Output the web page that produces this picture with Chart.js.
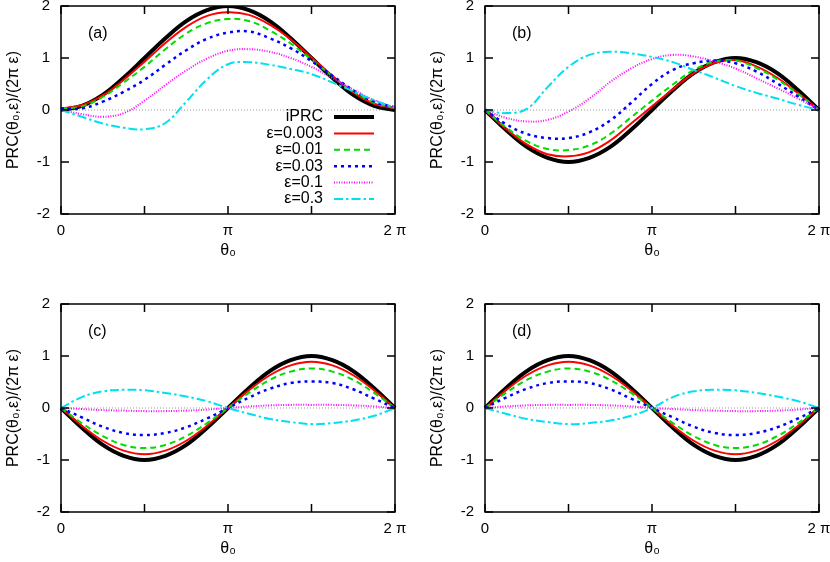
<!DOCTYPE html>
<html>
<head>
<meta charset="utf-8">
<script src="https://cdn.jsdelivr.net/npm/chart.js@4.4.0/dist/chart.umd.min.js"></script>
<style>
  body { margin: 0; background: #fff; }
  .panel { position: absolute; width: 406px; height: 264px; }
</style>
</head>
<body>
<div class="panel" style="left:0;top:0"><canvas id="chartA"></canvas></div>
<div class="panel" style="left:424px;top:0"><canvas id="chartB"></canvas></div>
<div class="panel" style="left:0;top:298px"><canvas id="chartC"></canvas></div>
<div class="panel" style="left:424px;top:298px"><canvas id="chartD"></canvas></div>
<script>
// theta_0 sampled every pi/8 from 0 to 2 pi
const thetaLabels = ["0", "π/8", "π/4", "3π/8", "π/2", "5π/8", "3π/4", "7π/8", "π",
  "9π/8", "5π/4", "11π/8", "3π/2", "13π/8", "7π/4", "15π/8", "2π"];
const xTickText = { 0: "0", 8: "π", 16: "2 π" };
const xTickMarks = [0, 4, 8, 12, 16];
const yTicks = [-2, -1, 0, 1, 2];

const seriesNames = ["iPRC", "ε=0.003", "ε=0.01", "ε=0.03", "ε=0.1", "ε=0.3"];

// panel (a)
const iprcA = [0, 0.08, 0.29, 0.62, 1.0, 1.38, 1.71, 1.92, 2.0, 1.92, 1.71, 1.38, 1.0, 0.62, 0.29, 0.08, 0];
const eps003A = [0.03, 0.09, 0.28, 0.58, 0.93, 1.29, 1.6, 1.81, 1.88, 1.83, 1.64, 1.36, 1.01, 0.66, 0.34, 0.12, 0.03];
const eps01A = [0.03, 0.07, 0.25, 0.53, 0.83, 1.17, 1.47, 1.67, 1.75, 1.71, 1.53, 1.28, 0.97, 0.65, 0.36, 0.14, 0.04];
const eps03A = [0.03, 0.03, 0.16, 0.35, 0.58, 0.87, 1.15, 1.37, 1.49, 1.51, 1.38, 1.19, 0.94, 0.66, 0.38, 0.16, 0.05];
const eps1A = [0, -0.08, -0.13, -0.06, 0.18, 0.48, 0.76, 0.99, 1.14, 1.17, 1.12, 1.0, 0.83, 0.61, 0.39, 0.19, 0.05];
const eps3A = [0, -0.13, -0.26, -0.34, -0.37, -0.25, 0.16, 0.59, 0.88, 0.92, 0.87, 0.79, 0.69, 0.53, 0.36, 0.19, 0.04];

// panel (b)
const iprcB = [0, -0.38, -0.71, -0.92, -1.0, -0.92, -0.71, -0.38, 0, 0.38, 0.71, 0.92, 1.0, 0.92, 0.71, 0.38, 0];
const eps003B = [0, -0.36, -0.66, -0.85, -0.89, -0.81, -0.59, -0.26, 0.07, 0.4, 0.71, 0.91, 0.96, 0.84, 0.62, 0.32, 0];
const eps01B = [0, -0.33, -0.6, -0.75, -0.77, -0.68, -0.46, -0.14, 0.18, 0.49, 0.77, 0.93, 0.95, 0.81, 0.59, 0.31, 0];
const eps03B = [0, -0.27, -0.46, -0.54, -0.54, -0.43, -0.2, 0.14, 0.5, 0.77, 0.9, 0.95, 0.9, 0.74, 0.51, 0.26, 0];
const eps1B = [0, -0.15, -0.22, -0.19, -0.03, 0.22, 0.54, 0.8, 0.98, 1.06, 1.03, 0.93, 0.8, 0.61, 0.42, 0.22, 0];
const eps3B = [0, -0.06, 0.02, 0.44, 0.83, 1.06, 1.12, 1.09, 1.02, 0.92, 0.77, 0.62, 0.46, 0.33, 0.22, 0.1, 0];

// panel (c)
const iprcC = [0, -0.38, -0.71, -0.92, -1.0, -0.92, -0.71, -0.38, 0, 0.38, 0.71, 0.92, 1.0, 0.92, 0.71, 0.38, 0];
const eps003C = [0, -0.34, -0.63, -0.82, -0.89, -0.82, -0.63, -0.34, 0, 0.34, 0.63, 0.82, 0.89, 0.82, 0.63, 0.34, 0];
const eps01C = [0, -0.29, -0.54, -0.71, -0.77, -0.71, -0.54, -0.29, 0, 0.29, 0.54, 0.7, 0.76, 0.7, 0.54, 0.29, 0];
const eps03C = [0, -0.18, -0.36, -0.48, -0.52, -0.48, -0.37, -0.2, 0, 0.2, 0.37, 0.48, 0.51, 0.48, 0.36, 0.18, 0];
const eps1C = [0, -0.02, -0.04, -0.05, -0.06, -0.06, -0.05, -0.03, 0, 0.03, 0.05, 0.06, 0.06, 0.06, 0.05, 0.03, 0];
const eps3C = [0, 0.21, 0.32, 0.35, 0.34, 0.29, 0.22, 0.13, 0, -0.11, -0.21, -0.27, -0.31, -0.29, -0.24, -0.15, 0];

// panel (d)
const iprcD = [0, 0.38, 0.71, 0.92, 1.0, 0.92, 0.71, 0.38, 0, -0.38, -0.71, -0.92, -1.0, -0.92, -0.71, -0.38, 0];
const eps003D = [0, 0.34, 0.63, 0.82, 0.89, 0.82, 0.63, 0.34, 0, -0.34, -0.63, -0.82, -0.89, -0.82, -0.63, -0.34, 0];
const eps01D = [0, 0.29, 0.54, 0.7, 0.76, 0.7, 0.54, 0.29, 0, -0.29, -0.54, -0.71, -0.77, -0.71, -0.54, -0.29, 0];
const eps03D = [0, 0.2, 0.37, 0.48, 0.51, 0.48, 0.36, 0.18, 0, -0.18, -0.36, -0.48, -0.52, -0.48, -0.37, -0.2, 0];
const eps1D = [0, 0.03, 0.05, 0.06, 0.06, 0.06, 0.05, 0.03, 0, -0.02, -0.04, -0.05, -0.06, -0.06, -0.05, -0.03, 0];
const eps3D = [0, -0.11, -0.21, -0.27, -0.31, -0.29, -0.24, -0.15, 0, 0.21, 0.32, 0.35, 0.34, 0.29, 0.22, 0.13, 0];

const lineStyles = [
  { color: "#000000", width: 4, dash: [] },
  { color: "#ff0000", width: 2, dash: [] },
  { color: "#00dd00", width: 2, dash: [6, 4] },
  { color: "#0000ff", width: 2.5, dash: [3, 4] },
  { color: "#ff00ff", width: 2, dash: [1, 1.5] },
  { color: "#00e0ee", width: 2, dash: [9, 3, 2.5, 3] },
];

const FONT = '"Liberation Sans", Arial, sans-serif';

const framePlugin = {
  id: "frame",
  beforeDatasetsDraw(chart) {
    const { ctx, chartArea: a, scales: { y } } = chart;
    const y0 = y.getPixelForValue(0);
    ctx.save();
    ctx.strokeStyle = "#999";
    ctx.lineWidth = 1;
    ctx.setLineDash([1, 2]);
    ctx.beginPath();
    ctx.moveTo(a.left, y0);
    ctx.lineTo(a.right, y0);
    ctx.stroke();
    ctx.restore();
  },
  afterDraw(chart, args, opts) {
    const { ctx, chartArea: a, scales: { x, y } } = chart;
    ctx.save();
    ctx.strokeStyle = "#000";
    ctx.lineWidth = 1.5;
    ctx.strokeRect(a.left, a.top, a.right - a.left, a.bottom - a.top);
    ctx.beginPath();
    xTickMarks.forEach((i) => {
      const px = x.getPixelForValue(i);
      ctx.moveTo(px, a.bottom);
      ctx.lineTo(px, a.bottom - 8);
      ctx.moveTo(px, a.top);
      ctx.lineTo(px, a.top + 8);
    });
    yTicks.forEach((v) => {
      const py = y.getPixelForValue(v);
      ctx.moveTo(a.left, py);
      ctx.lineTo(a.left + 8, py);
      ctx.moveTo(a.right, py);
      ctx.lineTo(a.right - 8, py);
    });
    ctx.stroke();

    ctx.fillStyle = "#000";
    ctx.font = "16px " + FONT;
    ctx.textBaseline = "middle";
    ctx.textAlign = "left";
    ctx.fillText(opts.label, a.left + 27, a.top + 28);

    if (opts.key) {
      chart.data.datasets.forEach((ds, i) => {
        const ry = a.top + 111 + i * 16.4;
        ctx.textAlign = "right";
        ctx.fillText(ds.label, a.left + 262, ry);
        ctx.strokeStyle = ds.borderColor;
        ctx.lineWidth = ds.borderWidth;
        ctx.setLineDash(ds.borderDash);
        ctx.beginPath();
        ctx.moveTo(a.left + 273, ry);
        ctx.lineTo(a.left + 313, ry);
        ctx.stroke();
      });
    }
    ctx.restore();
  },
};

function makePanel(id, label, values, key) {
  const datasets = values.map((vals, i) => ({
    label: seriesNames[i],
    data: vals,
    borderColor: lineStyles[i].color,
    borderWidth: lineStyles[i].width,
    borderDash: lineStyles[i].dash,
    pointRadius: 0,
    tension: 0.4,
    fill: false,
    order: values.length - i,
  }));
  return new Chart(document.getElementById(id), {
    type: "line",
    data: { labels: thetaLabels, datasets: datasets },
    options: {
      responsive: true,
      maintainAspectRatio: false,
      animation: false,
      layout: { padding: { top: 6, right: 11, left: 0, bottom: 0 } },
      plugins: {
        legend: { display: false },
        tooltip: { enabled: false },
        frame: { label: label, key: key },
      },
      scales: {
        x: {
          type: "category",
          offset: false,
          grid: { display: false, drawTicks: false },
          border: { display: false },
          ticks: {
            autoSkip: false,
            maxRotation: 0,
            padding: 8,
            color: "#000",
            font: { size: 15, family: FONT },
            callback: (v, i) => (i in xTickText ? xTickText[i] : null),
          },
          title: {
            display: true,
            text: "θ₀",
            color: "#000",
            font: { size: 16, family: FONT },
            padding: { top: 4, bottom: 4 },
          },
          afterFit: (scale) => {
            scale.height = 50;
            scale.paddingLeft = 0;
            scale.paddingRight = 0;
          },
        },
        y: {
          min: -2,
          max: 2,
          grid: { display: false, drawTicks: false },
          border: { display: false },
          ticks: {
            stepSize: 1,
            padding: 11,
            color: "#000",
            font: { size: 15, family: FONT },
          },
          title: {
            display: true,
            text: "PRC(θ₀,ε)/(2π ε)",
            color: "#000",
            font: { size: 16, family: FONT },
            padding: { top: 4, bottom: 4 },
          },
          afterFit: (scale) => {
            scale.width = 61;
            scale.paddingTop = 0;
            scale.paddingBottom = 0;
          },
        },
      },
    },
    plugins: [framePlugin],
  });
}

makePanel("chartA", "(a)", [iprcA, eps003A, eps01A, eps03A, eps1A, eps3A], true);
makePanel("chartB", "(b)", [iprcB, eps003B, eps01B, eps03B, eps1B, eps3B], false);
makePanel("chartC", "(c)", [iprcC, eps003C, eps01C, eps03C, eps1C, eps3C], false);
makePanel("chartD", "(d)", [iprcD, eps003D, eps01D, eps03D, eps1D, eps3D], false);
</script>
</body>
</html>
